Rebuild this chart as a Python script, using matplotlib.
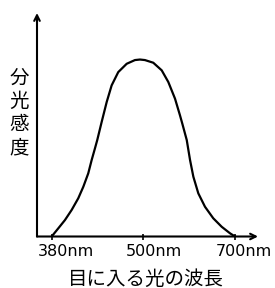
import matplotlib
matplotlib.use("Agg")
import matplotlib.pyplot as plt
import matplotlib.transforms as mtransforms

plt.rcParams['font.family'] = ['Noto Sans CJK JP', 'DejaVu Sans']

# schematic wavelength positions (380nm -> 0, 500nm -> 1, 700nm -> 2)
curve_x = [0.0, 0.072, 0.145, 0.218, 0.290, 0.345, 0.399, 0.436, 0.472, 0.497,
           0.545, 0.600, 0.654, 0.726, 0.818, 0.908, 0.963, 1.017, 1.108, 1.200,
           1.272, 1.345, 1.399, 1.425, 1.473, 1.509, 1.545, 1.599, 1.672, 1.762,
           1.854, 1.945, 2.0]
curve_y = [0.0, 0.046, 0.093, 0.150, 0.216, 0.281, 0.357, 0.432, 0.498, 0.545,
           0.647, 0.760, 0.854, 0.929, 0.976, 0.997, 1.0, 0.997, 0.982, 0.939,
           0.873, 0.779, 0.685, 0.637, 0.545, 0.432, 0.338, 0.244, 0.168, 0.103,
           0.055, 0.018, 0.0]
tick_pos = [0, 1, 2]
tick_labels = ["380nm", "500nm", "700nm"]
xlabel = "目に入る光の波長"
ylabel = "分光感度"

fig = plt.figure(figsize=(2.75, 2.88), dpi=100)
W, H = 275, 288
ax = fig.add_axes([37 / W, (H - 236.5) / H, 221 / W, 223.5 / H])
ax.set_xlim(-0.160, 2.25)
ax.set_ylim(0, 1.263)

ax.plot(curve_x, curve_y, color='black', lw=1.6, solid_joinstyle='round',
        solid_capstyle='round')

for s in ax.spines.values():
    s.set_visible(False)

ax.annotate('', xy=(1, 0), xytext=(0, 0), xycoords='axes fraction',
            arrowprops=dict(arrowstyle='->', lw=1.5, color='black',
                            shrinkA=0, shrinkB=0, mutation_scale=10))
ax.annotate('', xy=(0, 1), xytext=(0, 0), xycoords='axes fraction',
            arrowprops=dict(arrowstyle='->', lw=1.5, color='black',
                            shrinkA=0, shrinkB=0, mutation_scale=10))

ax.set_yticks([])
ax.set_xticks(tick_pos)
ax.set_xticklabels(tick_labels, fontsize=11.5, family='DejaVu Sans')
ax.tick_params(axis='x', direction='inout', length=5, width=1.2, pad=3)
for lbl, dx in zip(ax.get_xticklabels(), [14, 11, 9]):
    offset = mtransforms.ScaledTranslation(dx / 100, 0, fig.dpi_scale_trans)
    lbl.set_transform(lbl.get_transform() + offset)

fig.text(146 / W, 1 - 279 / H, xlabel, ha='center', va='center', fontsize=14)
fig.text(19 / W, 1 - 113 / H, "\n".join(ylabel), ha='center', va='center',
         fontsize=14, linespacing=1.15)

fig.savefig("out.png", dpi=100)
